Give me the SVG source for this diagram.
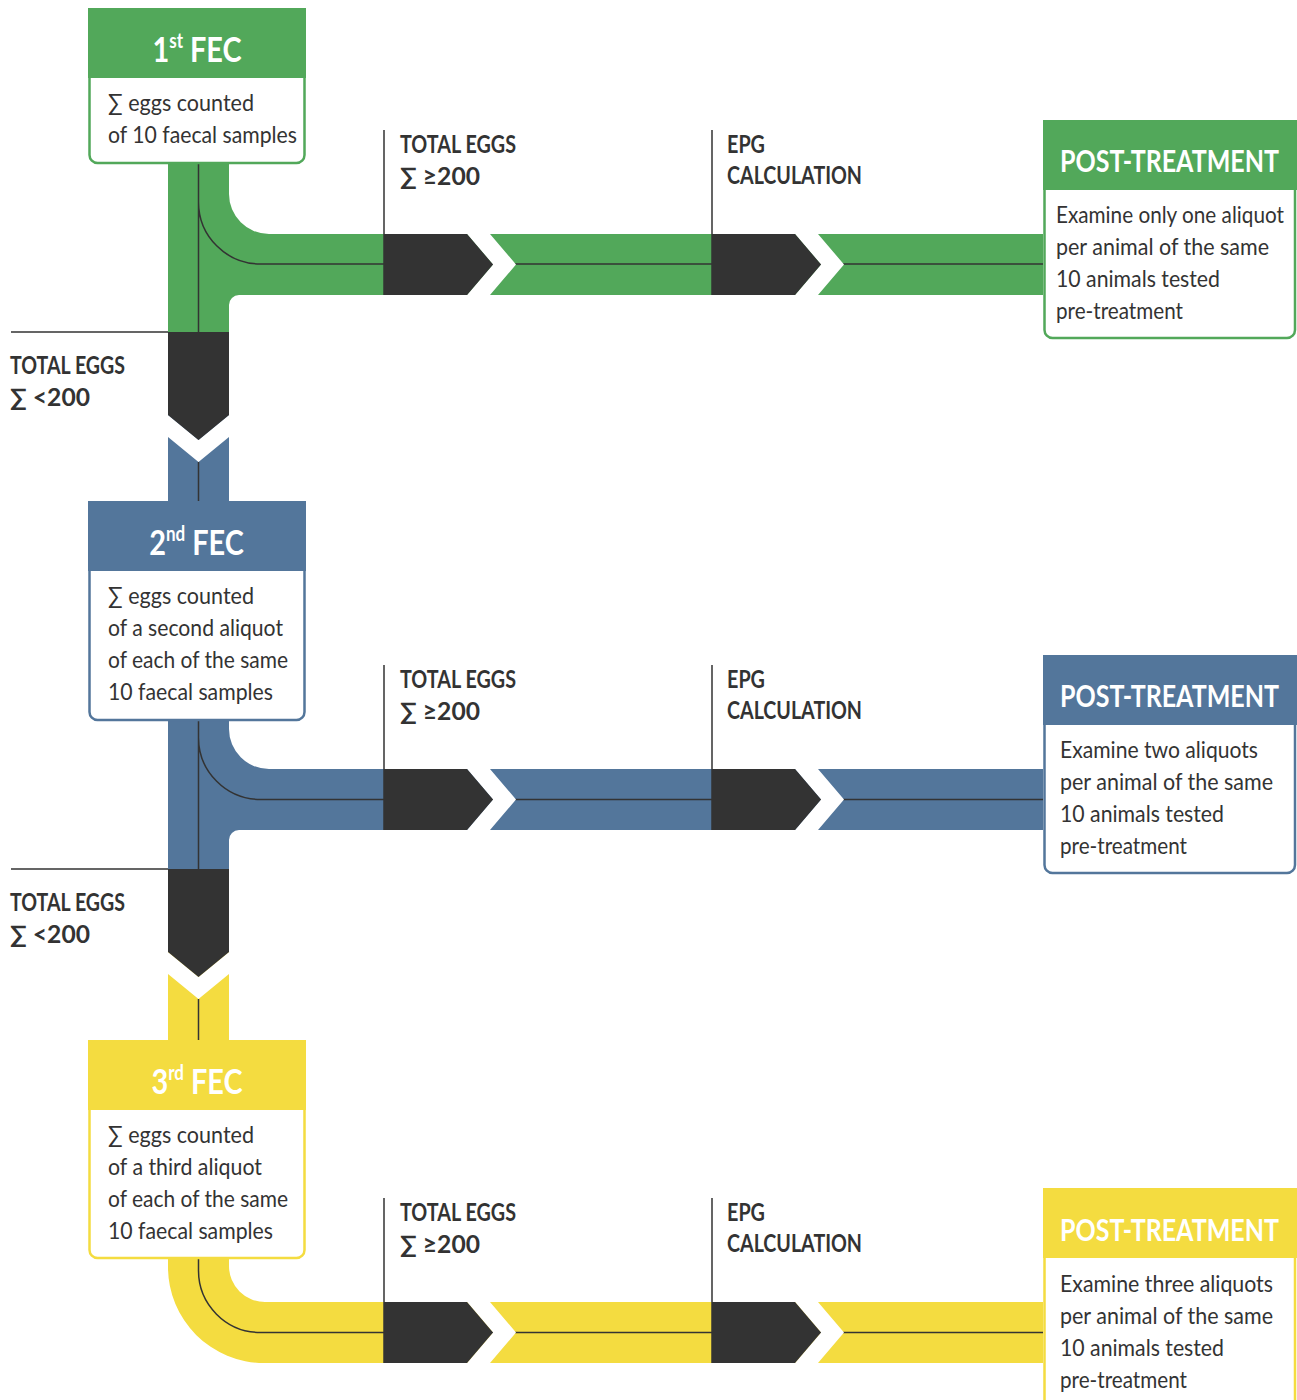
<svg xmlns="http://www.w3.org/2000/svg" width="1297" height="1400" viewBox="0 0 1297 1400">
<style>
.t{font-family:Lato,"Liberation Sans","DejaVu Sans",sans-serif;fill:#333}
.bd{font-size:24px}
.lb{font-size:24px;font-weight:700}
.hd{font-size:31px;font-weight:700;fill:#fff}
.ti{font-family:Lato,"Liberation Sans","DejaVu Sans",sans-serif;font-size:34px;font-weight:700;fill:#fff}
.ln{stroke:#333;stroke-width:1.5;fill:none}
.g{fill:#52a85a}.gs{stroke:#52a85a}
.bl{fill:#53769b}.bs{stroke:#53769b}
.y{fill:#f4dc40}.ys{stroke:#f4dc40}
</style>
<defs>
<g id="harrow">
<path d="M83,0 H106 L132,30.5 L106,61 H83 L109,30.5 Z" fill="#fff"/>
<path d="M0,0 H83 L109,30.5 L83,61 H0 Z" fill="#333"/>
</g>
<g id="varrow">
<path d="M0,83 L30.5,108 L61,83 V105 L30.5,130 L0,105 Z" fill="#fff"/>
<path d="M0,0 H61 V83 L30.5,108 L0,83 Z" fill="#333"/>
</g>
</defs>

<g id="connectors">
<path class="g" d="M168,163 H229 V194 A40,40 0 0 0 269,234 H1043 V295 H239 A10,10 0 0 0 229,305 V332 H168 Z"/>
<path class="ln" d="M198.5,163 V332 M198.5,202 A62,62 0 0 0 260.5,264 H1043"/>
<path class="ln" d="M384,130 V295 M712,130 V295 M11,332 H168"/>
<use href="#harrow" x="384" y="234"/>
<use href="#harrow" x="712" y="234"/>
<rect class="bl" x="168" y="415" width="61" height="86"/>
<use href="#varrow" x="168" y="332"/>
<path class="ln" d="M198.5,462 V501"/>
<path class="bl" d="M168,720 H229 V729 A40,40 0 0 0 269,769 H1043 V830 H239 A10,10 0 0 0 229,840 V869 H168 Z"/>
<path class="ln" d="M198.5,720 V869 M198.5,737.5 A62,62 0 0 0 260.5,799.5 H1043"/>
<path class="ln" d="M384,665 V830 M712,665 V830 M11,869 H168"/>
<use href="#harrow" x="384" y="769"/>
<use href="#harrow" x="712" y="769"/>
<rect class="y" x="168" y="952" width="61" height="88"/>
<use href="#varrow" x="168" y="869"/>
<path class="ln" d="M198.5,999 V1040"/>
<path class="y" d="M168,1258 H229 V1266 A36,36 0 0 0 265,1302 H1043 V1363 H264 A96,96 0 0 1 168,1267 Z"/>
<path class="ln" d="M198.5,1258 V1270 A62,62 0 0 0 260.5,1332.5 H1043"/>
<path class="ln" d="M384,1198 V1363 M712,1198 V1363"/>
<use href="#harrow" x="384" y="1302"/>
<use href="#harrow" x="712" y="1302"/>
</g>

<g id="labels">
<text class="t lb" x="400" y="153" textLength="116" lengthAdjust="spacingAndGlyphs">TOTAL EGGS</text>
<text class="t lb" x="400" y="185" textLength="80" lengthAdjust="spacingAndGlyphs">∑ ≥200</text>
<text class="t lb" x="727" y="153" textLength="38" lengthAdjust="spacingAndGlyphs">EPG</text>
<text class="t lb" x="727" y="184" textLength="135" lengthAdjust="spacingAndGlyphs">CALCULATION</text>
<text class="t lb" x="10" y="374" textLength="115" lengthAdjust="spacingAndGlyphs">TOTAL EGGS</text>
<text class="t lb" x="10" y="406" textLength="80" lengthAdjust="spacingAndGlyphs">∑ &lt;200</text>

<text class="t lb" x="400" y="688" textLength="116" lengthAdjust="spacingAndGlyphs">TOTAL EGGS</text>
<text class="t lb" x="400" y="720" textLength="80" lengthAdjust="spacingAndGlyphs">∑ ≥200</text>
<text class="t lb" x="727" y="688" textLength="38" lengthAdjust="spacingAndGlyphs">EPG</text>
<text class="t lb" x="727" y="719" textLength="135" lengthAdjust="spacingAndGlyphs">CALCULATION</text>
<text class="t lb" x="10" y="911" textLength="115" lengthAdjust="spacingAndGlyphs">TOTAL EGGS</text>
<text class="t lb" x="10" y="943" textLength="80" lengthAdjust="spacingAndGlyphs">∑ &lt;200</text>

<text class="t lb" x="400" y="1221" textLength="116" lengthAdjust="spacingAndGlyphs">TOTAL EGGS</text>
<text class="t lb" x="400" y="1253" textLength="80" lengthAdjust="spacingAndGlyphs">∑ ≥200</text>
<text class="t lb" x="727" y="1221" textLength="38" lengthAdjust="spacingAndGlyphs">EPG</text>
<text class="t lb" x="727" y="1252" textLength="135" lengthAdjust="spacingAndGlyphs">CALCULATION</text>
</g>

<g id="fec1">
<rect x="89.5" y="60" width="215" height="103" rx="8" fill="#fff" class="gs" stroke-width="2.5"/>
<rect class="g" x="88" y="8" width="218" height="70"/>
<text class="ti" transform="translate(197,62) scale(0.85,1)" text-anchor="middle">1<tspan font-size="20" dy="-14">st</tspan><tspan dy="14"> FEC</tspan></text>
<text class="t bd" x="108" y="111" textLength="146" lengthAdjust="spacingAndGlyphs">∑ eggs counted</text>
<text class="t bd" x="108" y="143" textLength="189" lengthAdjust="spacingAndGlyphs">of 10 faecal samples</text>
</g>

<g id="fec2">
<rect x="89.5" y="553" width="215" height="167" rx="8" fill="#fff" class="bs" stroke-width="2.5"/>
<rect class="bl" x="88" y="501" width="218" height="70"/>
<text class="ti" transform="translate(196.5,555) scale(0.85,1)" text-anchor="middle">2<tspan font-size="20" dy="-14">nd</tspan><tspan dy="14"> FEC</tspan></text>
<text class="t bd" x="108" y="604" textLength="146" lengthAdjust="spacingAndGlyphs">∑ eggs counted</text>
<text class="t bd" x="108" y="636" textLength="175" lengthAdjust="spacingAndGlyphs">of a second aliquot</text>
<text class="t bd" x="108" y="668" textLength="180" lengthAdjust="spacingAndGlyphs">of each of the same</text>
<text class="t bd" x="108" y="700" textLength="165" lengthAdjust="spacingAndGlyphs">10 faecal samples</text>
</g>

<g id="fec3">
<rect x="89.5" y="1092" width="215" height="166" rx="8" fill="#fff" class="ys" stroke-width="2.5"/>
<rect class="y" x="88" y="1040" width="218" height="70"/>
<text class="ti" transform="translate(197,1094) scale(0.85,1)" text-anchor="middle">3<tspan font-size="20" dy="-14">rd</tspan><tspan dy="14"> FEC</tspan></text>
<text class="t bd" x="108" y="1143" textLength="146" lengthAdjust="spacingAndGlyphs">∑ eggs counted</text>
<text class="t bd" x="108" y="1175" textLength="154" lengthAdjust="spacingAndGlyphs">of a third aliquot</text>
<text class="t bd" x="108" y="1207" textLength="180" lengthAdjust="spacingAndGlyphs">of each of the same</text>
<text class="t bd" x="108" y="1239" textLength="165" lengthAdjust="spacingAndGlyphs">10 faecal samples</text>
</g>

<g id="post1">
<rect x="1044.5" y="170" width="250.5" height="168" rx="8" fill="#fff" class="gs" stroke-width="2.5"/>
<rect class="g" x="1043" y="120" width="254" height="70"/>
<text class="t hd" transform="translate(1060,172) scale(0.82,1)" textLength="267" lengthAdjust="spacingAndGlyphs">POST-TREATMENT</text>
<text class="t bd" transform="translate(1056,223) scale(0.88,1)" textLength="259" lengthAdjust="spacingAndGlyphs">Examine only one aliquot</text>
<text class="t bd" x="1056" y="255" textLength="213" lengthAdjust="spacingAndGlyphs">per animal of the same</text>
<text class="t bd" x="1056" y="287" textLength="164" lengthAdjust="spacingAndGlyphs">10 animals tested</text>
<text class="t bd" x="1056" y="319" textLength="127" lengthAdjust="spacingAndGlyphs">pre-treatment</text>
</g>

<g id="post2">
<rect x="1044.5" y="705" width="250.5" height="168" rx="8" fill="#fff" class="bs" stroke-width="2.5"/>
<rect class="bl" x="1043" y="655" width="254" height="70"/>
<text class="t hd" transform="translate(1060,707) scale(0.82,1)" textLength="267" lengthAdjust="spacingAndGlyphs">POST-TREATMENT</text>
<text class="t bd" x="1060" y="758" textLength="198" lengthAdjust="spacingAndGlyphs">Examine two aliquots</text>
<text class="t bd" x="1060" y="790" textLength="213" lengthAdjust="spacingAndGlyphs">per animal of the same</text>
<text class="t bd" x="1060" y="822" textLength="164" lengthAdjust="spacingAndGlyphs">10 animals tested</text>
<text class="t bd" x="1060" y="854" textLength="127" lengthAdjust="spacingAndGlyphs">pre-treatment</text>
</g>

<g id="post3">
<rect x="1044.5" y="1238" width="250.5" height="190" rx="8" fill="#fff" class="ys" stroke-width="2.5"/>
<rect class="y" x="1043" y="1188" width="254" height="70"/>
<text class="t hd" transform="translate(1060,1241) scale(0.82,1)" textLength="267" lengthAdjust="spacingAndGlyphs">POST-TREATMENT</text>
<text class="t bd" x="1060" y="1292" textLength="213" lengthAdjust="spacingAndGlyphs">Examine three aliquots</text>
<text class="t bd" x="1060" y="1324" textLength="213" lengthAdjust="spacingAndGlyphs">per animal of the same</text>
<text class="t bd" x="1060" y="1356" textLength="164" lengthAdjust="spacingAndGlyphs">10 animals tested</text>
<text class="t bd" x="1060" y="1388" textLength="127" lengthAdjust="spacingAndGlyphs">pre-treatment</text>
</g>
</svg>
